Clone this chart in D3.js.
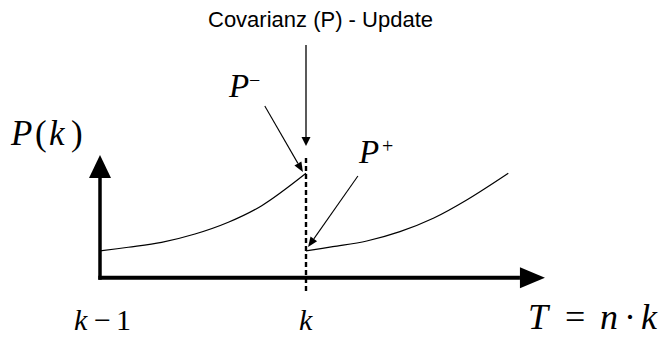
<!DOCTYPE html>
<html>
<head>
<meta charset="utf-8">
<script src="https://cdnjs.cloudflare.com/ajax/libs/d3/7.8.5/d3.min.js"></script>
<style>
    html, body { margin: 0; padding: 0; background: #fff; }
    svg { display: block; }
</style>
</head>
<body>
<div id="plot"></div>
<script>
// time in steps (k-1 = 0, k = 1), covariance in relative units
const timeBefore = [0, 0.137, 0.299, 0.461, 0.623, 0.785, 1.0];
const covBefore = [0.218, 0.248, 0.288, 0.356, 0.452, 0.587, 0.851];
const timeAfter = [1.0, 1.13, 1.295, 1.456, 1.618, 1.78, 1.982];
const covAfter = [0.218, 0.253, 0.299, 0.375, 0.484, 0.633, 0.851];
const stepLabels = ["k", "k"];
const stepTimes = [0, 1];

const width = 666, height = 337;

const xScale = d3.scaleLinear().domain([0, 1]).range([100, 306]);
const yScale = d3.scaleLinear().domain([0, 1]).range([277.7, 155]);

const svg = d3.select("#plot").append("svg")
    .attr("width", width)
    .attr("height", height);

function arrowHead(g, x1, y1, x2, y2, len, halfW) {
    const a = Math.atan2(y2 - y1, x2 - x1);
    const bx = x2 - len * Math.cos(a), by = y2 - len * Math.sin(a);
    const nx = -Math.sin(a) * halfW, ny = Math.cos(a) * halfW;
    g.append("path")
        .attr("d", `M${x2},${y2}L${bx + nx},${by + ny}L${bx - nx},${by - ny}Z`)
        .attr("fill", "black");
    return [bx, by];
}

function arrow(x1, y1, x2, y2, len, halfW, strokeW) {
    const g = svg.append("g");
    const [bx, by] = arrowHead(g, x1, y1, x2, y2, len, halfW);
    g.append("line")
        .attr("x1", x1).attr("y1", y1)
        .attr("x2", bx).attr("y2", by)
        .attr("stroke", "black")
        .attr("stroke-width", strokeW);
}

// axes
const x0 = xScale(0), y0 = yScale(0);
arrow(x0, y0 + 2, x0, yScale(1), 23, 11, 3.5);
arrow(x0 - 1.7, y0, xScale(2.16), y0, 25, 10.5, 4);

// update instant
svg.append("line")
    .attr("x1", xScale(1)).attr("x2", xScale(1))
    .attr("y1", yScale(0.975)).attr("y2", yScale(-0.117))
    .attr("stroke", "black")
    .attr("stroke-width", 2.4)
    .attr("stroke-dasharray", "5,3");

// covariance curves
const line = d3.line()
    .x(d => xScale(d[0]))
    .y(d => yScale(d[1]))
    .curve(d3.curveCatmullRom);

[[timeBefore, covBefore], [timeAfter, covAfter]].forEach(([t, p]) => {
    svg.append("path")
        .datum(d3.zip(t, p))
        .attr("d", line)
        .attr("fill", "none")
        .attr("stroke", "black")
        .attr("stroke-width", 1.2);
});

// annotation arrows
arrow(xScale(1), yScale(1.897), xScale(1), yScale(1.073), 9, 4.5, 1.3);
arrow(xScale(0.80), yScale(1.40), xScale(0.985), yScale(0.861), 10, 4, 1.1);
arrow(xScale(1.252), yScale(0.829), xScale(1.01), yScale(0.25), 10, 4, 1.1);

// texts
svg.append("text")
    .attr("font-family", "Liberation Sans")
    .attr("x", 208).attr("y", 27)
    .attr("font-size", 22)
    .text("Covarianz (P) - Update");

function mathText(y, size, parts) {
    const t = svg.append("text")
        .attr("font-family", "Liberation Serif")
        .attr("y", y)
        .attr("font-size", size);
    parts.forEach(p => {
        const s = t.append("tspan").attr("x", p.x).text(p.s);
        if (p.dy !== undefined) s.attr("dy", p.dy);
        if (p.size) s.attr("font-size", p.size);
        if (p.i) s.attr("font-style", "italic");
    });
    return t;
}

mathText(145, 35, [
    { s: "P", i: true, x: 11 },
    { s: "(", x: 35 },
    { s: "k", i: true, x: 49 },
    { s: ")", x: 71 },
]);

mathText(97, 33, [
    { s: "P", i: true, x: 229 },
    { s: "\u2212", x: 249, dy: -10, size: 20 },
]);

mathText(163, 33, [
    { s: "P", i: true, x: 359 },
    { s: "+", x: 382, dy: -10, size: 20 },
]);

mathText(330, 30, [
    { s: stepLabels[0], i: true, x: xScale(stepTimes[0]) - 26 },
    { s: "\u2212", x: xScale(stepTimes[0]) - 6 },
    { s: "1", x: xScale(stepTimes[0]) + 16 },
]);

mathText(330, 30, [
    { s: stepLabels[1], i: true, x: xScale(stepTimes[1]) - 7 },
]);

mathText(329, 36, [
    { s: "T", i: true, x: 528 },
    { s: "=", x: 565 },
    { s: "n", i: true, x: 600 },
    { s: "\u00b7", x: 624 },
    { s: "k", i: true, x: 641 },
]);
</script>
</body>
</html>
